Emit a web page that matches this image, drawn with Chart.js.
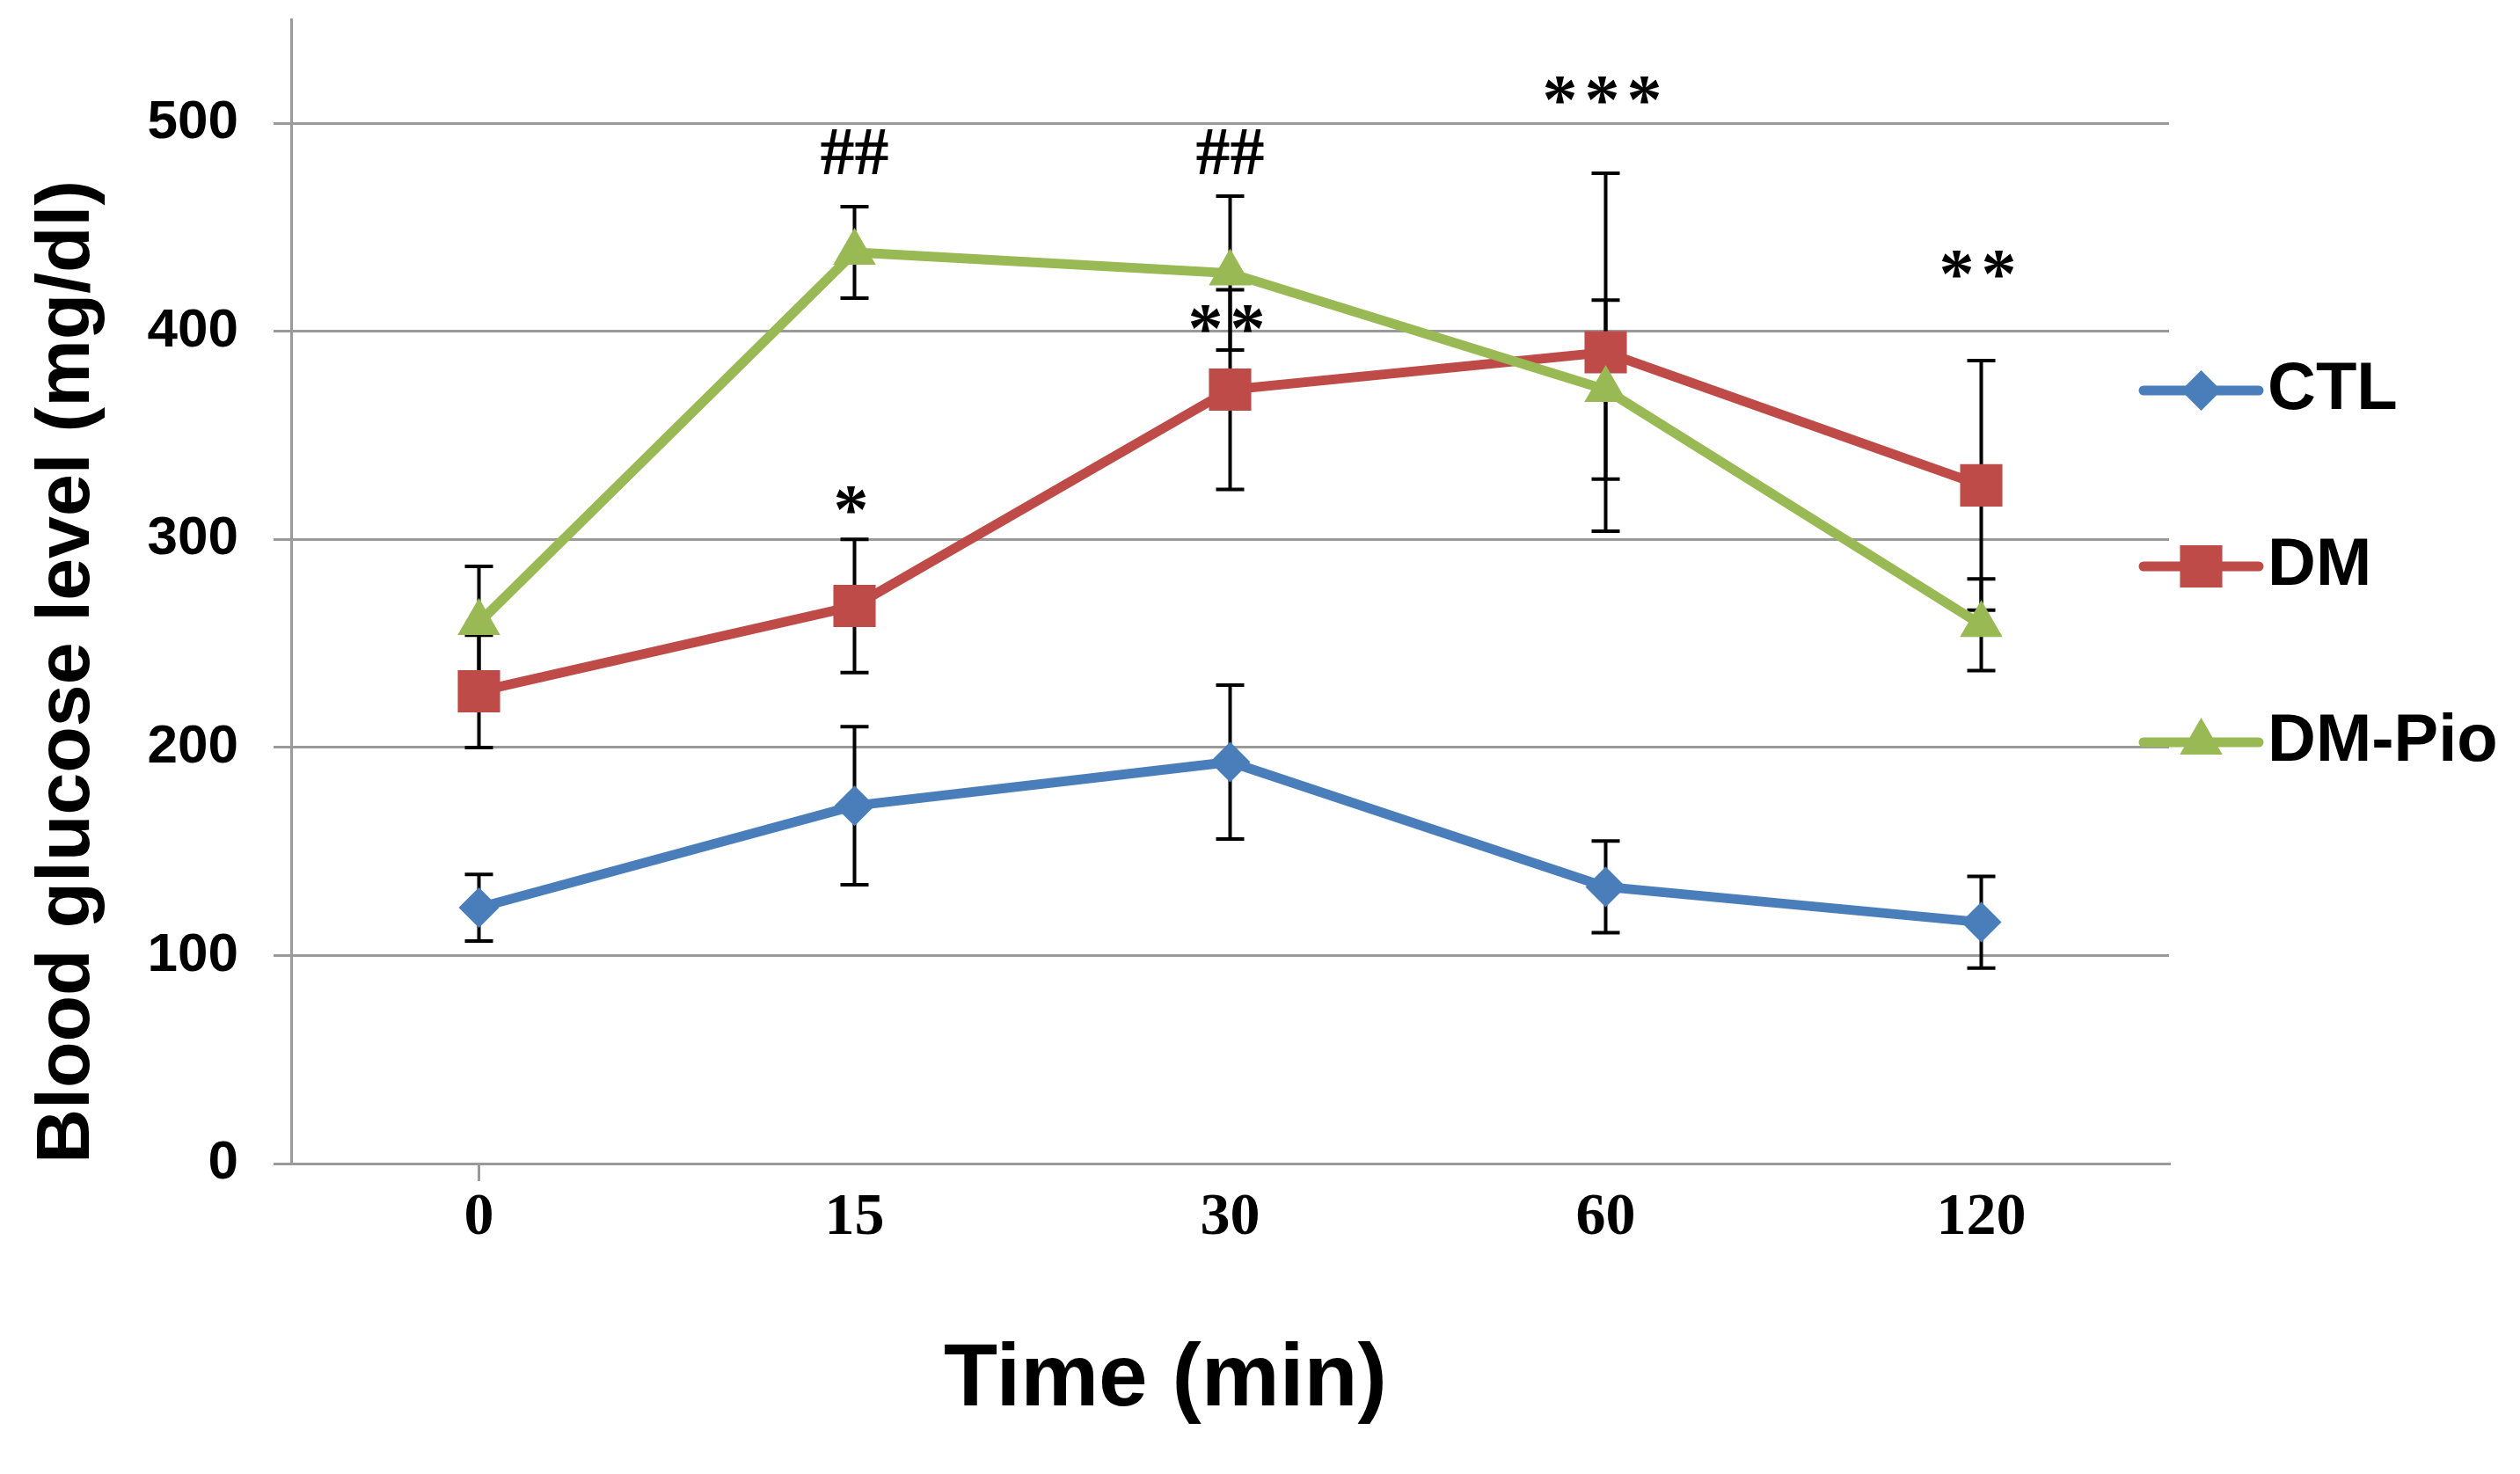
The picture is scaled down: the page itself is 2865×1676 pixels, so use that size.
<!DOCTYPE html>
<html>
<head>
<meta charset="utf-8">
<title>Blood glucose level</title>
<script src="https://cdn.jsdelivr.net/npm/chart.js@4.4.1/dist/chart.umd.min.js"></script>
<style>
  html, body { margin: 0; padding: 0; background: #fff; }
  #wrap { width: 2865px; height: 1676px; }
</style>
</head>
<body>
<div id="wrap"><canvas id="glucoseChart"></canvas></div>
<script>
// values (mean and error bar half-length)
var timePoints = ["0", "15", "30", "60", "120"];
var ctlMean = [123, 172, 193, 133, 116];
var ctlErr  = [16, 38, 37, 22, 22];
var dmMean  = [227, 268, 372, 390, 326];
var dmErr   = [27, 32, 48, 86, 60];
var pioMean = [260, 438, 428, 372, 259];
var pioErr  = [27, 22, 37, 43, 22];
var yTicks  = [0, 100, 200, 300, 400, 500];

// significance marks: text, category index, y value
var marks  = ["##", "##", "*", "**", "***", "**"];
var markAt = [1, 2, 1, 2, 3, 4];
var markY  = [484, 484, 312, 399, 509, 425];

var Blue = '#4A7EBB';
var Red = '#BE4B48';
var Green = '#98B954';
var Grid = '#9a9a9a';
var SANS = '"Liberation Sans", Arial, sans-serif';
var SERIF = '"Liberation Serif", "Times New Roman", serif';

var errorBars = {
    id: 'errorBars',
    beforeDatasetsDraw: function (chart) {
        var ctx = chart.ctx, xs = chart.scales.x, ys = chart.scales.y;
        ctx.save();
        ctx.strokeStyle = '#000';
        ctx.lineWidth = 4;
        chart.data.datasets.forEach(function (ds) {
            ds.data.forEach(function (v, i) {
                var px = xs.getPixelForValue(i);
                var top = ys.getPixelForValue(v + ds.errors[i]);
                var bot = ys.getPixelForValue(v - ds.errors[i]);
                ctx.beginPath();
                ctx.moveTo(px, top); ctx.lineTo(px, bot);
                ctx.moveTo(px - 16, top); ctx.lineTo(px + 16, top);
                ctx.moveTo(px - 16, bot); ctx.lineTo(px + 16, bot);
                ctx.stroke();
            });
        });
        ctx.restore();
    }
};

var sigMarks = {
    id: 'sigMarks',
    afterDatasetsDraw: function (chart) {
        var ctx = chart.ctx, xs = chart.scales.x, ys = chart.scales.y;
        ctx.save();
        ctx.fillStyle = '#000';
        ctx.textAlign = 'center';
        ctx.textBaseline = 'middle';
        marks.forEach(function (m, i) {
            var star = m.charAt(0) === '*';
            ctx.font = 'bold ' + (star ? 80 : 78) + 'px ' + SERIF;
            ctx.letterSpacing = star ? '8px' : '0px';
            ctx.fillText(m, xs.getPixelForValue(markAt[i]), ys.getPixelForValue(markY[i]));
        });
        ctx.restore();
    }
};

// legend on the right: line with marker, then label
var sideLegend = {
    id: 'sideLegend',
    afterDraw: function (chart) {
        var ctx = chart.ctx, area = chart.chartArea;
        var x0 = area.right - 29, x1 = x0 + 131;
        ctx.save();
        chart.data.datasets.forEach(function (ds, i) {
            var cy = 444 + i * 200;
            ctx.strokeStyle = ds.borderColor;
            ctx.lineWidth = 11;
            ctx.lineCap = 'round';
            ctx.beginPath();
            ctx.moveTo(x0, cy); ctx.lineTo(x1, cy);
            ctx.stroke();
            ctx.fillStyle = ds.borderColor;
            Chart.helpers.drawPoint(ctx, {
                pointStyle: ds.pointStyle, radius: ds.pointRadius, rotation: 0, borderWidth: 0
            }, (x0 + x1) / 2, cy);
            ctx.fillStyle = '#000';
            ctx.font = 'bold 76px ' + SANS;
            ctx.textAlign = 'left';
            ctx.textBaseline = 'middle';
            ctx.fillText(ds.label, x1 + 10, cy);
        });
        ctx.restore();
    }
};

var xTitle = {
    id: 'xTitle',
    afterDraw: function (chart) {
        var ctx = chart.ctx;
        ctx.save();
        ctx.fillStyle = '#000';
        ctx.font = 'bold 100px ' + SANS;
        ctx.textAlign = 'center';
        ctx.textBaseline = 'middle';
        ctx.fillText('Time (min)', 1325, 1570);
        ctx.restore();
    }
};

var ctx1 = document.getElementById("glucoseChart");

var glucoseChart = new Chart(ctx1, {
    type: 'line',
    plugins: [errorBars, sigMarks, sideLegend, xTitle],
    data: {
        labels: timePoints,
        datasets: [
            {
                label: 'CTL',
                data: ctlMean,
                errors: ctlErr,
                borderColor: Blue,
                backgroundColor: Blue,
                borderWidth: 11,
                pointStyle: 'rectRot',
                pointRadius: 23,
                pointBackgroundColor: Blue,
                pointBorderWidth: 0,
                order: 3
            },
            {
                label: 'DM',
                data: dmMean,
                errors: dmErr,
                borderColor: Red,
                backgroundColor: Red,
                borderWidth: 11,
                pointStyle: 'rect',
                pointRadius: 34,
                pointBackgroundColor: Red,
                pointBorderWidth: 0,
                order: 2
            },
            {
                label: 'DM-Pio',
                data: pioMean,
                errors: pioErr,
                borderColor: Green,
                backgroundColor: Green,
                borderWidth: 11,
                pointStyle: 'triangle',
                pointRadius: 28,
                pointBackgroundColor: Green,
                pointBorderWidth: 0,
                order: 1
            }
        ]
    },
    options: {
        responsive: true,
        maintainAspectRatio: false,
        devicePixelRatio: 1,
        animation: false,
        events: [],
        layout: { autoPadding: false, padding: { top: 22, right: 399, left: 0, bottom: 0 } },
        plugins: {
            legend: { display: false },
            tooltip: { enabled: false }
        },
        scales: {
            x: {
                offset: true,
                afterFit: function (s) { s.height = 353; s.paddingLeft = 0; s.paddingRight = 0; },
                grid: {
                    drawOnChartArea: false,
                    tickLength: 20,
                    lineWidth: 3,
                    color: function (c) { return c.index === 0 ? Grid : 'rgba(0,0,0,0)'; }
                },
                border: { color: Grid, width: 3 },
                ticks: {
                    padding: 2,
                    color: '#000',
                    font: { family: SERIF, weight: 'bold', size: 68 }
                }
            },
            y: {
                min: 0,
                max: 550,
                afterBuildTicks: function (s) {
                    s.ticks = yTicks.map(function (v) { return { value: v }; });
                },
                afterFit: function (s) { s.width = 331; s.paddingTop = 0; s.paddingBottom = 0; },
                grid: { color: Grid, lineWidth: 3, tickLength: 20 },
                border: { color: Grid, width: 3 },
                ticks: {
                    padding: 40,
                    color: '#000',
                    font: { family: SANS, weight: 'bold', size: 62 }
                },
                title: {
                    display: true,
                    text: 'Blood glucose level (mg/dl)',
                    align: 'start',
                    color: '#000',
                    font: { family: SANS, weight: 'bold', size: 86 },
                    padding: { top: 26, bottom: 0 }
                }
            }
        }
    }
});
</script>
</body>
</html>
